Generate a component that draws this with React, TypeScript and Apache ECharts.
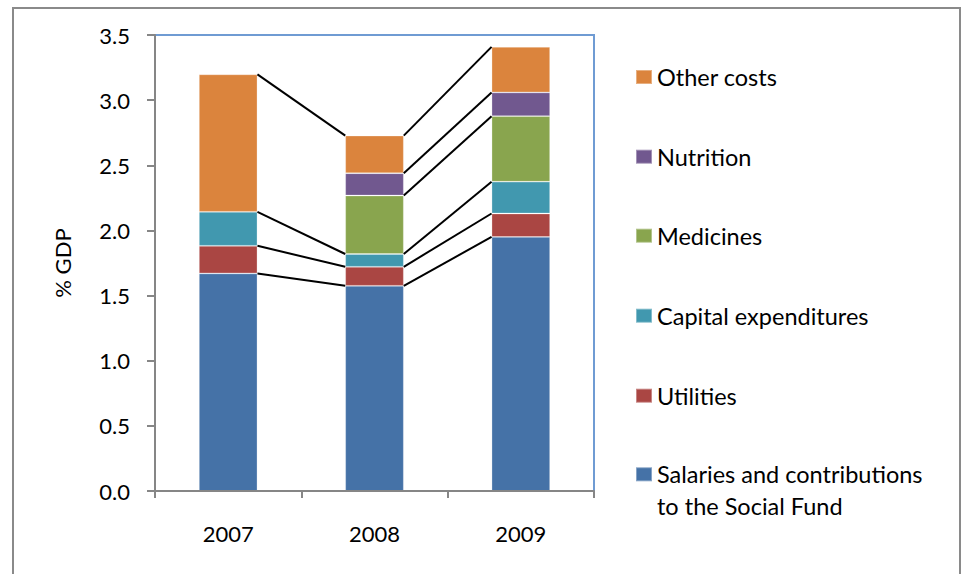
import React, { useEffect, useRef } from "react";
import * as echarts from "echarts";

const categories = ["2007", "2008", "2009"];
const seriesNames = [
  "Salaries and contributions\nto the Social Fund",
  "Utilities",
  "Capital expenditures",
  "Medicines",
  "Nutrition",
  "Other costs",
];
const salaries = [1.67, 1.575, 1.95];
const utilities = [0.212, 0.146, 0.18];
const capital = [0.261, 0.098, 0.244];
const medicines: (number | null)[] = [null, 0.449, 0.503];
const nutrition: (number | null)[] = [null, 0.171, 0.182];
const otherCosts = [1.055, 0.289, 0.35];
const yTicks = [0, 0.5, 1, 1.5, 2, 2.5, 3, 3.5];

const colors = ["#4572A7", "#AA4643", "#4198AF", "#89A54E", "#71588F", "#DB843D"];
const FONT = "Lato";

export default function App() {
  const ref = useRef<HTMLDivElement>(null);
  useEffect(() => {
    if (!ref.current) return;
    const chart = echarts.init(ref.current, undefined, { renderer: "svg" });
    const values: (number | null)[][] = [salaries, utilities, capital, medicines, nutrition, otherCosts];

    // cumulative tops
    const cum = values.map((_, s) =>
      categories.map((__, i) => {
        let t = 0;
        for (let k = 0; k <= s; k++) t += values[k][i] ?? 0;
        return t;
      })
    );
    const connectors: number[][] = [];
    for (let i = 0; i < categories.length - 1; i++) {
      for (let s = 0; s < values.length; s++) {
        if (values[s][i] != null && values[s][i + 1] != null) {
          connectors.push([i, cum[s][i], cum[s][i + 1]]);
        }
      }
    }

    const barSeries = seriesNames.map((name, s) => ({
      name,
      type: "bar",
      stack: "total",
      barWidth: "40%",
      data: values[s],
      itemStyle: { color: colors[s], borderColor: "rgba(255,255,255,0.35)", borderWidth: 0.8 },
      z: 2,
    }));

    const legendTops = [61, 140.7, 219.7, 299.7, 379.7];
    const legendOrder = [5, 4, 3, 2, 1];
    const legendText = { fontFamily: FONT, fontSize: 23.5, color: "#000", lineHeight: 32 };
    const legends: any[] = legendOrder.map((s, k) => ({
      data: [seriesNames[s]],
      left: 635,
      top: legendTops[k],
      padding: 0,
      itemWidth: 16,
      itemHeight: 14,
      icon: "rect",
      selectedMode: false,
      textStyle: legendText,
    }));
    legends.push({
      data: [seriesNames[0]],
      left: 635,
      top: 426.3,
      padding: 0,
      itemWidth: 16,
      itemHeight: 14,
      icon: "rect",
      selectedMode: false,
      formatter: (name: string) => "\n" + name,
      textStyle: legendText,
    });

    chart.setOption({
      animation: false,
      backgroundColor: "#fff",
      grid: {
        left: 155,
        top: 35,
        right: 375,
        bottom: 83,
        show: true,
        borderColor: "#6F9BD3",
        borderWidth: 2,
        backgroundColor: "transparent",
      },
      legend: legends,
      graphic: [
        {
          type: "rect",
          shape: { x: 13, y: 8, width: 947, height: 620 },
          style: { fill: "none", stroke: "#8a8a8a", lineWidth: 2 },
          silent: true,
          z: 100,
        },
      ],
      xAxis: {
        type: "category",
        data: categories,
        axisLine: { lineStyle: { color: "#868686", width: 2 } },
        axisTick: { show: true, length: 7, lineStyle: { color: "#868686", width: 2 } },
        axisLabel: { fontFamily: FONT, fontSize: 22, color: "#000", margin: 31 },
        z: 5,
      },
      yAxis: {
        type: "value",
        min: 0,
        max: 3.5,
        interval: 0.5,
        name: "% GDP",
        nameLocation: "middle",
        nameGap: 82,
        nameTextStyle: { fontFamily: FONT, fontSize: 22, color: "#000" },
        axisLine: { show: true, lineStyle: { color: "#868686", width: 2 } },
        axisTick: { show: true, length: 8, lineStyle: { color: "#868686", width: 2 } },
        axisLabel: {
          fontFamily: FONT,
          fontSize: 22,
          color: "#000",
          margin: 25,
          formatter: (v: number) => (yTicks.includes(v) ? v.toFixed(1) : ""),
        },
        splitLine: { show: false },
        z: 5,
      },
      series: [
        ...barSeries,
        {
          type: "custom",
          name: "connectors",
          data: connectors,
          encode: { x: 0, y: [1, 2] },
          z: 3,
          silent: true,
          renderItem: (params: any, api: any) => {
            const i = api.value(0);
            const a = api.coord([i, api.value(1)]);
            const b = api.coord([i + 1, api.value(2)]);
            const half = (api.size([1, 0])[0] * 0.4) / 2;
            return {
              type: "line",
              shape: { x1: a[0] + half, y1: a[1], x2: b[0] - half, y2: b[1] },
              style: { stroke: "#000", lineWidth: 2 },
            };
          },
        },
      ],
    });
    return () => chart.dispose();
  }, []);
  return (
    <div
      ref={ref}
      style={{ position: "fixed", left: 0, top: 0, width: 969, height: 574 }}
    />
  );
}
